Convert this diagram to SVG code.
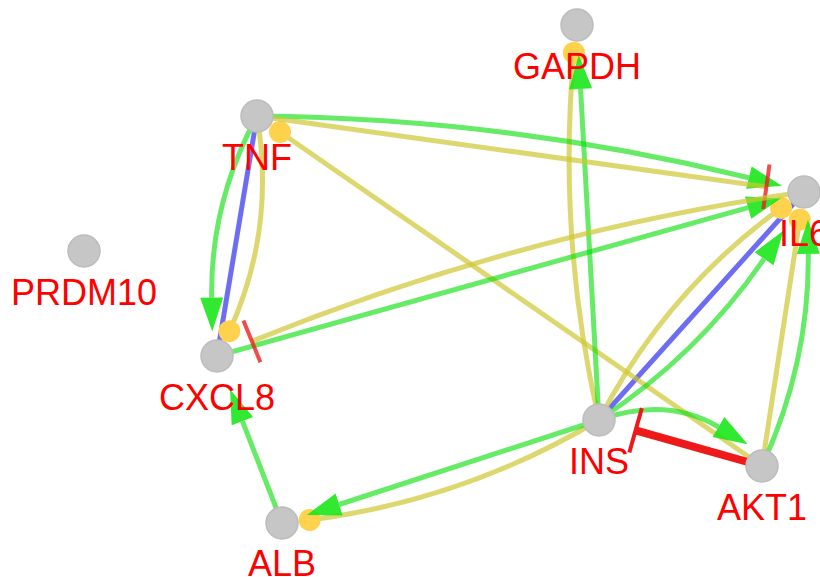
<svg xmlns="http://www.w3.org/2000/svg" width="820" height="577" viewBox="0 0 820 577">
<style>
.e{fill:none;stroke-linecap:butt}
.g{stroke:rgb(0,222,0);stroke-opacity:0.6;stroke-width:5}
.y{stroke:rgb(205,200,50);stroke-opacity:0.7;stroke-width:5}
.b{stroke:rgb(60,60,240);stroke-opacity:0.75;stroke-width:5}
.r{stroke:#ee1a1a;stroke-width:8}
.n{fill:#c6c6c6;stroke:#bcbcbc;stroke-width:1.5}
.l{font-family:"Liberation Sans",Arial,sans-serif;font-size:36px;fill:#ff0000;text-anchor:middle}
</style>
<defs>
<marker id="arr" markerUnits="userSpaceOnUse" orient="auto" refX="0" refY="0" markerWidth="40" markerHeight="30" style="overflow:visible"><path d="M0,-11.5 L34,0 L0,11.5 Z" fill="rgb(20,230,20)" fill-opacity="0.88"/></marker>
<marker id="circ" markerUnits="userSpaceOnUse" orient="auto" refX="0" refY="0" markerWidth="24" markerHeight="24" style="overflow:visible"><circle r="11" fill="#ffd24d"/></marker>
<marker id="teey" markerUnits="userSpaceOnUse" orient="auto" refX="0" refY="0" markerWidth="10" markerHeight="50" style="overflow:visible"><path d="M0,-22.5 L0,22.5" stroke="rgb(238,30,30)" stroke-opacity="0.8" stroke-width="4"/></marker>
<marker id="teer" markerUnits="userSpaceOnUse" orient="auto" refX="0" refY="0" markerWidth="10" markerHeight="50" style="overflow:visible"><path d="M0,-23 L0,23" stroke="#ee1a1a" stroke-width="4"/></marker>
</defs>
<rect width="820" height="577" fill="#ffffff"/>
<g id="connectors">
<path id="e2" class="e b" d="M257,116 L217,356"/>
<path id="e11" class="e b" d="M599,420 L804,192"/>
<path id="e3" class="e y" d="M257,116 Q276.1,229 229.4,331.2" marker-end="url(#circ)"/>
<path id="e9" class="e y" d="M599,420 Q557.1,238 573.9,52.8" marker-end="url(#circ)"/>
<path id="e10" class="e y" d="M599,420 Q665.4,291.7 781.1,207.9" marker-end="url(#circ)"/>
<path id="e13" class="e y" d="M762,466 L799.8,219.7" marker-end="url(#circ)"/>
<path id="e18" class="e y" d="M599,420 Q464.2,500.4 309.7,520" marker-end="url(#circ)"/>
<path id="e20" class="e y" d="M762,466 L280,132" marker-end="url(#circ)"/>
<path id="e1" class="e g" d="M257,116 Q210.2,202.6 211.7,297.6" marker-end="url(#arr)"/>
<path id="e4" class="e g" d="M257,116 Q507,118.1 748.9,177.7" marker-end="url(#arr)"/>
<path id="e6" class="e g" d="M217,356 L748.1,207.6" marker-end="url(#arr)"/>
<path id="e8" class="e g" d="M599,420 L580.6,88.9" marker-end="url(#arr)"/>
<path id="e12" class="e g" d="M599,420 Q698.3,354.5 764.1,258.8" marker-end="url(#arr)"/>
<path id="e14" class="e g" d="M762,466 Q809.3,363.6 808.3,253.8" marker-end="url(#arr)"/>
<path id="e15" class="e g" d="M599,420 Q666.5,396.1 718.5,427" marker-end="url(#arr)"/>
<path id="e17" class="e g" d="M599,420 L339.1,504.5" marker-end="url(#arr)"/>
<path id="e19" class="e g" d="M282,523 L242.4,421.2" marker-end="url(#arr)"/>
<path id="e5" class="e y" d="M257,116 L766.4,186.8" marker-end="url(#teey)"/>
<path id="e7" class="e y" d="M804,192 Q518.4,232.8 251.9,341.3" marker-end="url(#teey)"/>
<path id="e16" class="e r" d="M762,466 L635.6,430.3" marker-end="url(#teer)"/>
</g>
<g id="node-GAPDH"><circle class="n" cx="577" cy="25" r="16"/><text class="l" x="577" y="79">GAPDH</text></g>
<g id="node-TNF"><circle class="n" cx="257" cy="116" r="16"/><text class="l" x="257" y="170">TNF</text></g>
<g id="node-IL6"><circle class="n" cx="804" cy="192" r="16"/><text class="l" x="804" y="246">IL6</text></g>
<g id="node-PRDM10"><circle class="n" cx="84" cy="251" r="16"/><text class="l" x="84" y="305">PRDM10</text></g>
<g id="node-CXCL8"><circle class="n" cx="217" cy="356" r="16"/><text class="l" x="217" y="410">CXCL8</text></g>
<g id="node-INS"><circle class="n" cx="599" cy="420" r="16"/><text class="l" x="599" y="474">INS</text></g>
<g id="node-AKT1"><circle class="n" cx="762" cy="466" r="16"/><text class="l" x="762" y="520">AKT1</text></g>
<g id="node-ALB"><circle class="n" cx="282" cy="523" r="16"/><text class="l" x="282" y="576">ALB</text></g>
</svg>
